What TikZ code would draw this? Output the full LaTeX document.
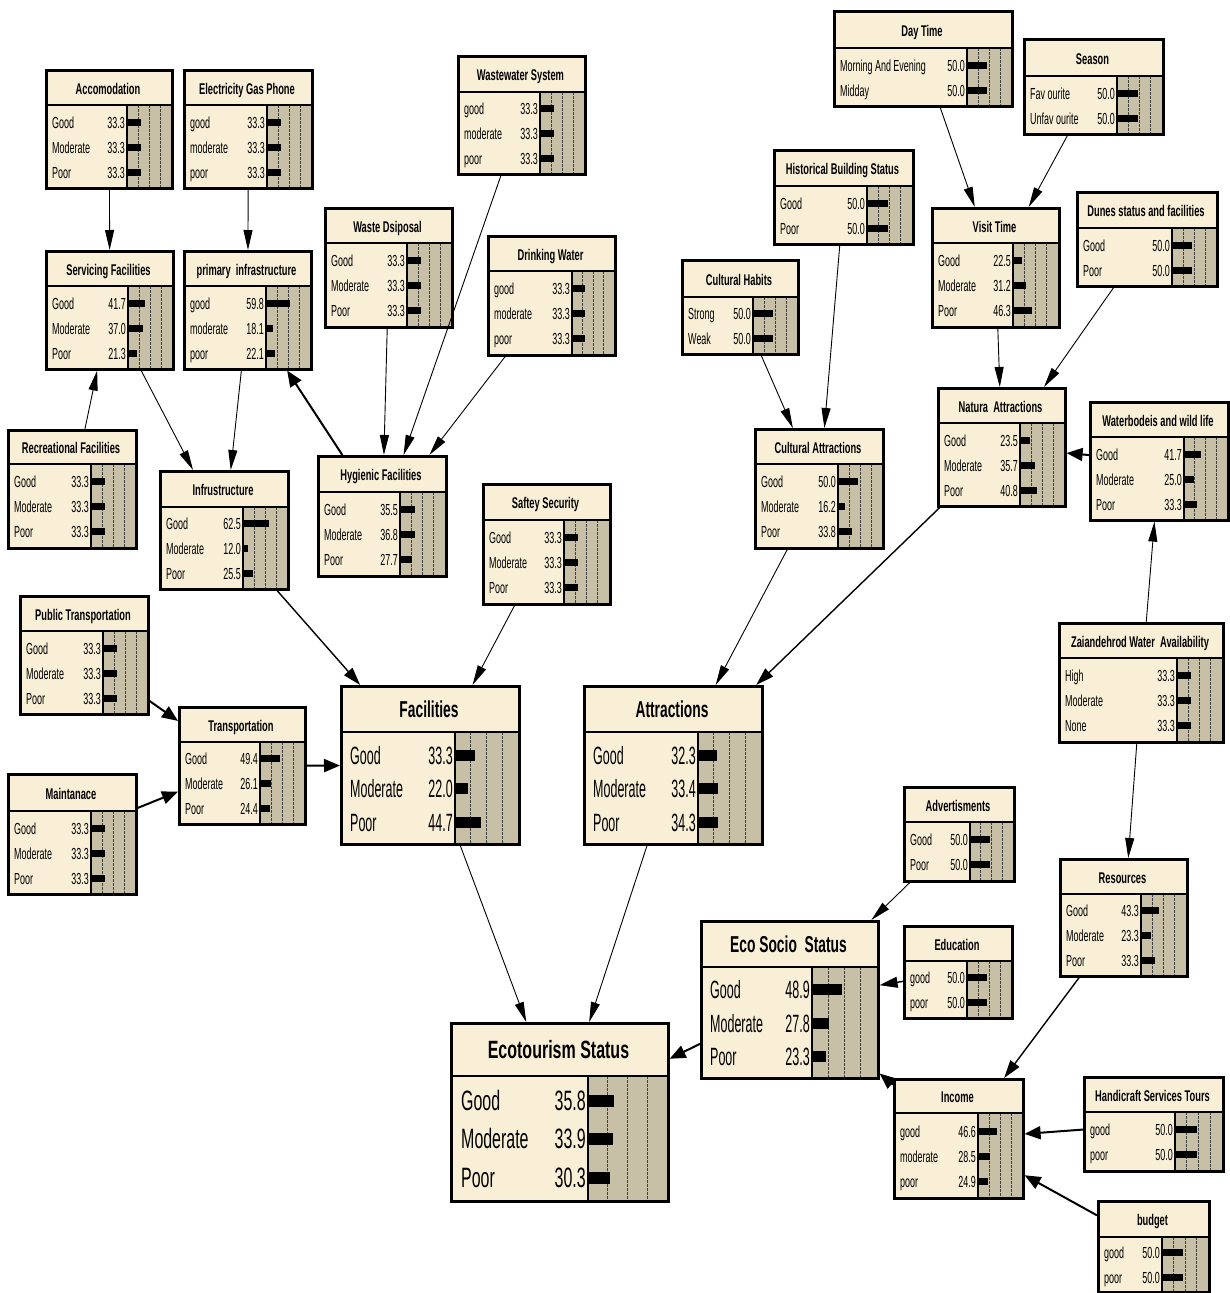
\documentclass[tikz,border=0pt]{standalone}
\usepackage{fontspec}
\setmainfont{Liberation Sans}
\usepackage{graphicx}
\usetikzlibrary{arrows.meta}
\definecolor{creamc}{HTML}{F9EFD6}
\definecolor{greyc}{HTML}{C8BFA7}
\newcommand\lfS[1]{\scalebox{0.56}[1]{\fontsize{16}{16}\selectfont #1}}
\newcommand\lfB[1]{\scalebox{0.5}[1]{\fontsize{25}{25}\selectfont #1}}
\newcommand\lfE[1]{\scalebox{0.57}[1]{\fontsize{28}{28}\selectfont #1}}
\newcommand\tfS[1]{\scalebox{0.6}[1]{\fontsize{15.5}{15.5}\selectfont\bfseries #1}}
\newcommand\tfB[1]{\scalebox{0.6}[1]{\fontsize{23}{23}\selectfont\bfseries #1}}
\newcommand\tfE[1]{\scalebox{0.64}[1]{\fontsize{25}{25}\selectfont\bfseries #1}}
\def\spS{25}\def\spB{33.5}\def\spE{38.5}
\def\bhS{3.5}\def\bhB{5.5}\def\bhE{6}
\def\blS{7}\def\blB{10}\def\blE{10.5}
\def\tbS{7}\def\tbB{9}\def\tbE{9.5}
\def\lmS{7}\def\lmB{10}\def\lmE{11}
\tikzset{
  gridl/.style={dash pattern=on 2.5pt off 1.5pt, line width=0.6pt, black!75},
  sepl/.style={line width=1.3pt},
  hdrl/.style={line width=1.5pt},
  boxl/.style={draw, line width=2.6pt, inner sep=0pt},
  lk/.style={line width=0.9pt, -{Triangle[length=20pt,width=9pt]}},
  lkm/.style={line width=1.4pt, -{Triangle[length=18pt,width=11pt]}},
  lkt/.style={line width=2pt, -{Triangle[length=16pt,width=13pt]}}
}
\newcommand{\bnbox}[9]{%
  \xdef\bL{#2}\xdef\bT{#3}\xdef\bR{#4}\xdef\bB{#5}\xdef\bH{#6}\xdef\bG{#7}\xdef\bK{#8}%
  \fill[creamc] (#2,#3) rectangle (#4,#5);
  \fill[greyc] (#7,#6) rectangle (#4,#5);
  \foreach \f in {0.25,0.5,0.75}{\draw[gridl] ({#7+\f*(#4-#7)},#6) -- ({#7+\f*(#4-#7)},#5);}
  \draw[sepl] (#7,#6) -- (#7,#5);
  \draw[hdrl] (#2,#6) -- ({#4+3},#6);
  \node[inner sep=0pt,anchor=base] at ({(#2+#4)/2},{(#3+#6)/2+\csname tb#8\endcsname}) {\csname tf#8\endcsname{#9}};
  \node[boxl, minimum width={#4-#2}, minimum height={#5-#3}, anchor=north west] (#1) at (#2,#3) {};
}
\newcommand{\bnrows}[2]{%
  \pgfmathsetmacro{\cy}{(\bH+\bB)/2}
  \foreach [count=\i] \lab/\val in {#2}{
    \pgfmathsetmacro{\yy}{\cy+(\i-(#1+1)/2)*\csname sp\bK\endcsname}
    \node[inner sep=0pt,anchor=base west] at ({\bL+\csname lm\bK\endcsname},{\yy+\csname bl\bK\endcsname}) {\csname lf\bK\endcsname{\lab}};
    \node[inner sep=0pt,anchor=base east] at ({\bG-2},{\yy+\csname bl\bK\endcsname}) {\csname lf\bK\endcsname{\val}};
    \fill ({\bG},{\yy+1-\csname bh\bK\endcsname}) rectangle ({\bG+\val/100*(\bR-\bG)*0.93},{\yy+1+\csname bh\bK\endcsname});
  }
}
\begin{document}
\begin{tikzpicture}[x=1pt,y=-1pt]
\useasboundingbox (0,0) rectangle (1229,1293);
\fill[white] (0,0) rectangle (1229,1293);
% left cluster
\bnbox{acc}{45}{69}{171}{187}{105}{127}{S}{Accomodation}
\bnrows{3}{Good/33.3,Moderate/33.3,Poor/33.3}
\bnbox{elec}{183}{69}{311}{187}{105}{267}{S}{Electricity Gas Phone}
\bnrows{3}{good/33.3,moderate/33.3,poor/33.3}
\bnbox{wastew}{457}{55}{584}{173}{92}{540}{S}{Wastewater System}
\bnrows{3}{good/33.3,moderate/33.3,poor/33.3}
\bnbox{wasted}{324}{207}{451}{326}{243}{407}{S}{Waste Dsiposal}
\bnrows{3}{Good/33.3,Moderate/33.3,Poor/33.3}
\bnbox{drink}{487}{235}{614}{354}{271}{572}{S}{Drinking Water}
\bnrows{3}{good/33.3,moderate/33.3,poor/33.3}
\bnbox{serv}{45}{250}{172}{368}{286}{128}{S}{Servicing Facilities}
\bnrows{3}{Good/41.7,Moderate/37.0,Poor/21.3}
\bnbox{prim}{183}{250}{310}{368}{286}{266}{S}{primary\ \ infrastructure}
\bnrows{3}{good/59.8,moderate/18.1,poor/22.1}
\bnbox{rec}{7}{429}{135}{547}{464}{91}{S}{Recreational Facilities}
\bnrows{3}{Good/33.3,Moderate/33.3,Poor/33.3}
\bnbox{infr}{159}{470}{287}{588}{507}{243}{S}{Infrustructure}
\bnrows{3}{Good/62.5,Moderate/12.0,Poor/25.5}
\bnbox{hyg}{317}{455}{445}{575}{492}{400}{S}{Hygienic Facilities}
\bnrows{3}{Good/35.5,Moderate/36.8,Poor/27.7}
\bnbox{safe}{482}{483}{609}{603}{520}{564}{S}{Saftey Security}
\bnrows{3}{Good/33.3,Moderate/33.3,Poor/33.3}
\bnbox{pubt}{19}{595}{147}{713}{631}{103}{S}{Public Transportation}
\bnrows{3}{Good/33.3,Moderate/33.3,Poor/33.3}
\bnbox{maint}{7}{773}{135}{893}{811}{91}{S}{Maintanace}
\bnrows{3}{Good/33.3,Moderate/33.3,Poor/33.3}
\bnbox{trans}{178}{706}{304}{823}{742}{260}{S}{Transportation}
\bnrows{3}{Good/49.4,Moderate/26.1,Poor/24.4}
\bnbox{fac}{340}{685}{518}{843}{732}{455}{B}{Facilities}
\bnrows{3}{Good/33.3,Moderate/22.0,Poor/44.7}
\bnbox{attr}{583}{685}{761}{843}{732}{698}{B}{Attractions}
\bnrows{3}{Good/32.3,Moderate/33.4,Poor/34.3}
\bnbox{eco}{450}{1022}{667}{1200}{1076}{588}{E}{Ecotourism Status}
\bnrows{3}{Good/35.8,Moderate/33.9,Poor/30.3}
% right cluster
\bnbox{day}{833}{10}{1011}{105}{48}{967}{S}{Day Time}
\bnrows{2}{Morning And Evening/50.0,Midday/50.0}
\bnbox{season}{1023}{38}{1162}{133}{76}{1117}{S}{Season}
\bnrows{2}{Fav ourite/50.0,Unfav ourite/50.0}
\bnbox{hist}{773}{149}{912}{243}{186}{867}{S}{Historical Building Status}
\bnrows{2}{Good/50.0,Poor/50.0}
\bnbox{culth}{681}{259}{797}{353}{297}{753}{S}{Cultural Habits}
\bnrows{2}{Strong/50.0,Weak/50.0}
\bnbox{visit}{931}{207}{1058}{326}{243}{1013}{S}{Visit Time}
\bnrows{3}{Good/22.5,Moderate/31.2,Poor/46.3}
\bnbox{dunes}{1076}{191}{1216}{285}{228}{1172}{S}{Dunes status and facilities}
\bnrows{2}{Good/50.0,Poor/50.0}
\bnbox{natura}{937}{387}{1064}{505}{423}{1020}{S}{Natura\ \ Attractions}
\bnrows{3}{Good/23.5,Moderate/35.7,Poor/40.8}
\bnbox{waterb}{1089}{401}{1227}{519}{437}{1184}{S}{Waterbodeis and wild life}
\bnrows{3}{Good/41.7,Moderate/25.0,Poor/33.3}
\bnbox{cultattr}{754}{428}{882}{547}{464}{838}{S}{Cultural Attractions}
\bnrows{3}{Good/50.0,Moderate/16.2,Poor/33.8}
\bnbox{zai}{1058}{622}{1222}{741}{658}{1177}{S}{Zaiandehrod Water\ \ Availability}
\bnrows{3}{High/33.3,Moderate/33.3,None/33.3}
\bnbox{adv}{903}{786}{1013}{880}{822}{970}{S}{Advertisments}
\bnrows{2}{Good/50.0,Poor/50.0}
\bnbox{ecosoc}{700}{920}{877}{1077}{967}{812}{B}{Eco Socio\ \ Status}
\bnrows{3}{Good/48.9,Moderate/27.8,Poor/23.3}
\bnbox{edu}{903}{925}{1011}{1017}{961}{967}{S}{Education}
\bnrows{2}{good/50.0,poor/50.0}
\bnbox{res}{1059}{858}{1186}{975}{894}{1141}{S}{Resources}
\bnrows{3}{Good/43.3,Moderate/23.3,Poor/33.3}
\bnbox{income}{893}{1078}{1022}{1197}{1113}{978}{S}{Income}
\bnrows{3}{good/46.6,moderate/28.5,poor/24.9}
\bnbox{handi}{1083}{1076}{1222}{1170}{1112}{1175}{S}{Handicraft Services Tours}
\bnrows{2}{good/50.0,poor/50.0}
\bnbox{budget}{1097}{1200}{1208}{1291}{1237}{1162}{S}{budget}
\bnrows{2}{good/50.0,poor/50.0}
% links
\draw[lk] (acc) -- (serv);
\draw[lk] (elec) -- (prim);
\draw[lk] (rec) -- (serv);
\draw[lk] (serv) -- (infr);
\draw[lk] (prim) -- (infr);
\draw[lkt] (hyg) -- (prim);
\draw[lk] (wasted) -- (hyg);
\draw[lk] (wastew) -- (hyg);
\draw[lk] (drink) -- (hyg);
\draw[lkm] (infr) -- (fac);
\draw[lk] (safe) -- (fac);
\draw[lkt] (pubt) -- (trans);
\draw[lkt] (maint) -- (trans);
\draw[lkt] (trans) -- (fac);
\draw[lk] (fac) -- (eco);
\draw[lk] (attr) -- (eco);
\draw[lkt] (ecosoc) -- (eco);
\draw[lk] (cultattr) -- (attr);
\draw[lkm] (natura) -- (attr);
\draw[lk] (culth) -- (cultattr);
\draw[lk] (hist) -- (cultattr);
\draw[lk] (day) -- (visit);
\draw[lk] (season) -- (visit);
\draw[lk] (visit) -- (natura);
\draw[lk] (dunes) -- (natura);
\draw[lkt] (waterb) -- (natura);
\draw[lk] (zai) -- (waterb);
\draw[lk] (zai) -- (res);
\draw[lk] (adv) -- (ecosoc);
\draw[lkm] (edu) -- (ecosoc);
\draw[lkm] (res) -- (income);
\draw[lkt] (income) -- (ecosoc);
\draw[lkt] (handi) -- (income);
\draw[lkt] (budget) -- (income);
\end{tikzpicture}
\end{document}
